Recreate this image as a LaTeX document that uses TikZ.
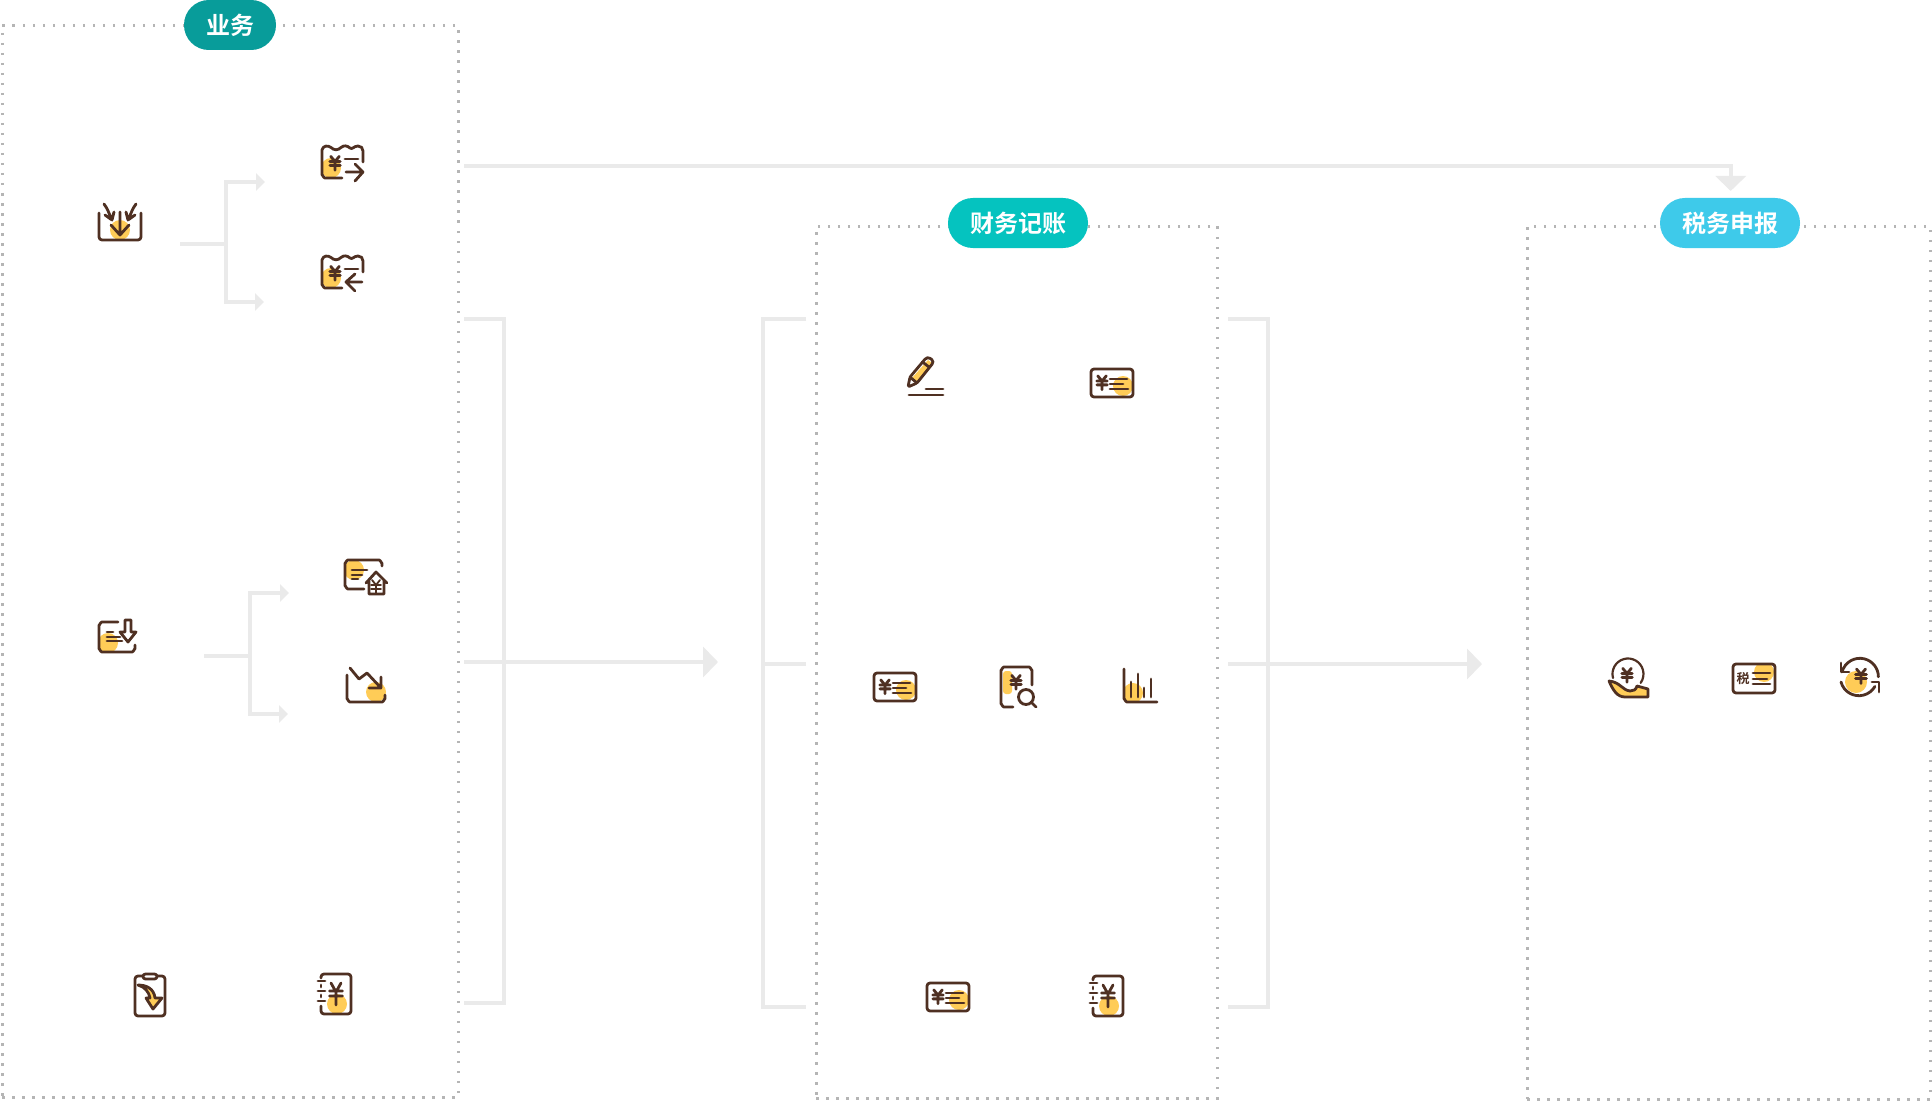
\documentclass[tikz,border=0pt]{standalone}
\usepackage{fontspec}
\newfontfamily\cjk[BoldFont={Noto Sans CJK SC Bold}]{Noto Sans CJK SC}
\usetikzlibrary{arrows.meta}
\definecolor{brn}{HTML}{4F3022}
\definecolor{yel}{HTML}{FFCC57}
\definecolor{conn}{HTML}{EAEAEA}
\definecolor{dotc}{HTML}{B5B5B5}
\definecolor{pa}{HTML}{089C9A}
\definecolor{pb}{HTML}{05C3BF}
\definecolor{pc}{HTML}{3ECAEA}
\tikzset{
 ic/.style={draw=brn,line width=2.8pt,line cap=round,line join=round},
 yf/.style={fill=yel,draw=none},
 panel/.style={draw=dotc,line width=3pt,dash pattern=on 2.5pt off 7.5pt,inner sep=0pt,outer sep=0pt,anchor=north west},
 pill/.style={rounded corners=24.9pt,minimum height=50pt,inner sep=0pt,outer sep=0pt,text=white,font=\cjk\bfseries\fontsize{24pt}{26pt}\selectfont},
 cline/.style={draw=conn,line width=4pt},
 small/.style={cline,-{Triangle[length=9pt,width=17pt]}},
 big/.style={cline,-{Triangle[length=15pt,width=30pt]}},
}
% yen mark
\newcommand{\yenm}[3]{\begin{scope}[shift={(#1,#2)},scale=#3]
 \draw[ic] (-4.5,-7)--(0,-1.5)--(4.5,-7) (-5.5,-1.5)--(5.5,-1.5) (-5.5,2.5)--(5.5,2.5) (0,-1.5)--(0,7.5);
\end{scope}}
% card icon: first instance coordinates
\newcommand{\cardicon}[2]{\begin{scope}[shift={(#1,#2)}]
 \begin{scope}\clip[rounded corners=3pt] (1091,369) rectangle (1133,397);
 \fill[yf] (1123,386) circle[radius=10];\end{scope}
 \draw[ic,rounded corners=3pt] (1091,369) rectangle (1133,397);
 \yenm{1102}{382.5}{0.95}
 \draw[ic] (1110,379)--(1127,379) (1110,384)--(1123,384) (1110,389)--(1128,389);
\end{scope}}
% notebook icon
\newcommand{\noteicon}[2]{\begin{scope}[shift={(#1,#2)}]
 \fill[yf] (337,1004) circle[radius=10];
 \draw[ic,rounded corners=3pt] (321,978)--(321,974)--(351,974)--(351,1014)--(321,1014)--(321,1006);
 \draw[ic] (321,985)--(321,987) (321,995)--(321,997);
 \draw[ic] (318,981)--(325,981) (318,991)--(325,991) (318,1001)--(325,1001);
 \draw[ic] (331,983)--(336,992)--(341,983) (329.5,991)--(342.5,991) (329.5,996)--(342.5,996) (336,992)--(336,1005);
\end{scope}}
% receipt icon
\newcommand{\receipt}[2]{\begin{scope}[shift={(#1,#2)}]
 \fill[yf] (331,168) circle[radius=10];
 \draw[ic] (342,178)--(325,178) to[out=180,in=90] (322,175)--(322,150) .. controls (323,145.5) and (328,145) .. (331,147.5) .. controls (334,150.5) and (338,150.5) .. (341,147.5) .. controls (344,145) and (347,145.5) .. (350,148) .. controls (352,150) and (354,146) .. (358,146) .. controls (361,146) and (363,148) .. (363,151)--(363,162);
 \yenm{335}{163}{0.95}
 \draw[ic] (345,159)--(358,159);
\end{scope}}
\begin{document}
\begin{tikzpicture}[x=1pt,y=-1pt]
\useasboundingbox (0,0) rectangle (1932,1102);
\fill[white] (0,0) rectangle (1932,1102);
% panels
\node[panel,minimum width=456pt,minimum height=1071pt] (p1) at (2,26) {};
\node[panel,minimum width=401pt,minimum height=872pt] (p2) at (816,226) {};
\node[panel,minimum width=403pt,minimum height=873pt] (p3) at (1527,226) {};
% pills
\node[pill,fill=pa,minimum width=92pt] (l1) at (230,25) {业务};
\node[pill,fill=pb,minimum width=140pt] (l2) at (1018,223) {财务记账};
\node[pill,fill=pc,minimum width=140pt] (l3) at (1730,223) {税务申报};
% connector coordinates
\coordinate (t0) at (464,166); \coordinate (t1) at (1730.7,191);
\coordinate (s1) at (180,244); \coordinate (j1) at (226,244);
\coordinate (a1) at (265,182); \coordinate (b1) at (264,302);
\coordinate (s2) at (204,656); \coordinate (j2) at (250,656);
\coordinate (a2) at (289,593); \coordinate (b2) at (288,714);
\coordinate (k1) at (464,319); \coordinate (k2) at (504,319); \coordinate (k3) at (504,1003); \coordinate (k4) at (464,1003);
\coordinate (m1) at (464,662); \coordinate (m2) at (718,662);
\coordinate (n1) at (806,319); \coordinate (n2) at (763,319); \coordinate (n3) at (763,1007); \coordinate (n4) at (806,1007);
\coordinate (n5) at (763,664); \coordinate (n6) at (806,664);
\coordinate (r1) at (1228,319); \coordinate (r2) at (1268,319); \coordinate (r3) at (1268,1007); \coordinate (r4) at (1228,1007);
\coordinate (q1) at (1228,664); \coordinate (q2) at (1482,664);
\draw[big,line join=miter] (t0) -| (t1);
\draw[cline] (s1) -- (j1);
\draw[small] (j1) |- (a1);
\draw[small] (j1) |- (b1);
\draw[cline] (s2) -- (j2);
\draw[small] (j2) |- (a2);
\draw[small] (j2) |- (b2);
\draw[cline] (k1) -- (k2) -- (k3) -- (k4);
\draw[big] (m1) -- (m2);
\draw[cline] (n1) -- (n2) -- (n3) -- (n4);
\draw[cline] (n5) -- (n6);
\draw[cline] (r1) -- (r2) -- (r3) -- (r4);
\draw[big] (q1) -- (q2);
% --- icon A
\fill[yf] (120,230) circle[radius=10];
\draw[ic,rounded corners=3pt] (99,213)--(99,240)--(141,240)--(141,213);
\draw[ic] (120,212)--(120,235) (111,225)--(120,235)--(129,225);
\draw[ic] (104,204) .. controls (108,209) and (109,214) .. (112,220) (105,215)--(112,220)--(114,212);
\draw[ic] (136,204) .. controls (132,209) and (131,214) .. (128,220) (135,215)--(128,220)--(126,212);
% --- icons B, C
\receipt{0}{0}
\draw[ic] (346,172)--(363,172) (355,164)--(363,172)--(355,181);
\receipt{0}{110}
\draw[ic] (362,282)--(346,282) (355,274)--(346,282)--(355,291);
% --- icon D
\fill[yf] (108,643) circle[radius=10];
\draw[ic] (118,622)--(102,622) to[out=180,in=270] (99,625)--(99,649) to[out=90,in=180] (102,652)--(132,652) to[out=0,in=90] (135,649)--(135,645);
\draw[ic] (107,632)--(113,632) (107,637)--(120,637) (107,641)--(122,641);
\draw[ic] (125,632)--(125,620)--(131,620)--(131,632)--(136,632)--(128,642)--(120,632)--cycle;
% --- icon E
\fill[yf] (354,570) circle[radius=10];
\draw[ic] (364,589)--(348,589) to[out=180,in=90] (345,586)--(345,563) to[out=270,in=180] (348,560)--(379,560) to[out=0,in=270] (382,563)--(382,566);
\draw[ic] (352,570)--(367,570) (352,575)--(362,575) (352,579)--(358,579);
\draw[ic] (366,583)--(376,572)--(387,583) (369,581)--(369,594)--(384,594)--(384,581);
\draw[ic,line width=1.8pt] (372,580)--(376,585)--(380,580) (371,585)--(381,585) (371,589)--(381,589) (376,585)--(376,594);
% --- icon F
\fill[yf] (376,692) circle[radius=10];
\draw[ic] (347,675)--(347,699) to[out=90,in=180] (350,702)--(382,702) to[out=0,in=90] (385,699)--(385,695);
\draw[ic] (350,668)--(359,679)--(367,673)--(381,688) (381,677)--(381,688)--(369,688);
% --- icon G
\draw[ic,rounded corners=3pt] (135,976) rectangle (165,1016);
\draw[ic,fill=white,rounded corners=2.5pt] (143,974) rectangle (157,979);
\draw[ic,fill=yel] (138,985) .. controls (147,985) and (154,989) .. (155,998)--(162,998)--(153,1009)--(146,998)--(150,998) .. controls (149,992) and (145,987) .. (138,985)--cycle;
% --- icon H
\noteicon{0}{0}
% --- icon I
\fill[yf] (912,378)--(928,360)--(932,363)--(916,382)--cycle;
\draw[ic,rounded corners=1.5pt] (908,387)--(910,377)--(926,358)--(929,357.5)--(933,360.5)--(933,363)--(917,383)--cycle;
\draw[ic] (910,377)--(917,383) (922.5,362)--(929,367);
\draw[ic] (926,389)--(943,389) (909,395)--(943,395);
% --- card icons
\cardicon{0}{0}
\cardicon{-217}{304}
\cardicon{-164}{614}
% --- icon K
\fill[yf,rounded corners=3pt] (1003,671) rectangle (1012,694);
\draw[ic] (1013,707)--(1004,707) to[out=180,in=90] (1001,704)--(1001,670) to[out=270,in=180] (1004,667)--(1029,667) to[out=0,in=270] (1032,670)--(1032,685);
\yenm{1016}{682}{0.95}
\draw[ic] (1026,697) circle[radius=7.5];
\draw[ic] (1031,702)--(1036,707);
% --- icon L
\fill[yf] (1133,693) circle[radius=10];
\draw[ic] (1124,669)--(1124,699) to[out=90,in=180] (1127,702)--(1157,702);
\draw[ic] (1131,682)--(1131,697) (1138,674)--(1138,697) (1144,688)--(1144,697) (1151,679)--(1151,697);
% --- second notebook
\noteicon{772}{2}
% --- icon M
\draw[ic,line width=2.2pt] (1613,678) arc[start angle=165,end angle=395,radius=15.5];
\yenm{1627}{675}{0.95}
\draw[ic,fill=yel] (1609,681) .. controls (1613,690) and (1617,697) .. (1625,697)--(1648,697)--(1648,689)--(1637,686) .. controls (1636,690) and (1633,691) .. (1630,691) .. controls (1622,690) and (1620,682) .. (1609,681)--cycle;
% --- icon N
\begin{scope}\clip[rounded corners=3pt] (1733,664) rectangle (1775,693);
\fill[yf] (1764,672) circle[radius=10];\end{scope}
\draw[ic,rounded corners=3pt] (1733,664) rectangle (1775,693);
\node[inner sep=0pt,text=brn,font=\cjk\bfseries\fontsize{13pt}{13pt}\selectfont] (shui) at (1743,679) {税};
\draw[ic] (1753,673)--(1770,673) (1753,679)--(1767,679) (1753,684)--(1770,684);
% --- icon O
\fill[yf] (1856,682) circle[radius=11];
\yenm{1861}{676}{1}
\draw[ic] (1842,672) arc[start angle=195,end angle=360,radius=18.5] ;
\draw[ic] (1841,682) arc[start angle=165,end angle=30,radius=18.5];
\draw[ic] (1841,663)--(1841,672)--(1849,672) (1872,682)--(1879,682)--(1879,692);
\end{tikzpicture}
\end{document}
